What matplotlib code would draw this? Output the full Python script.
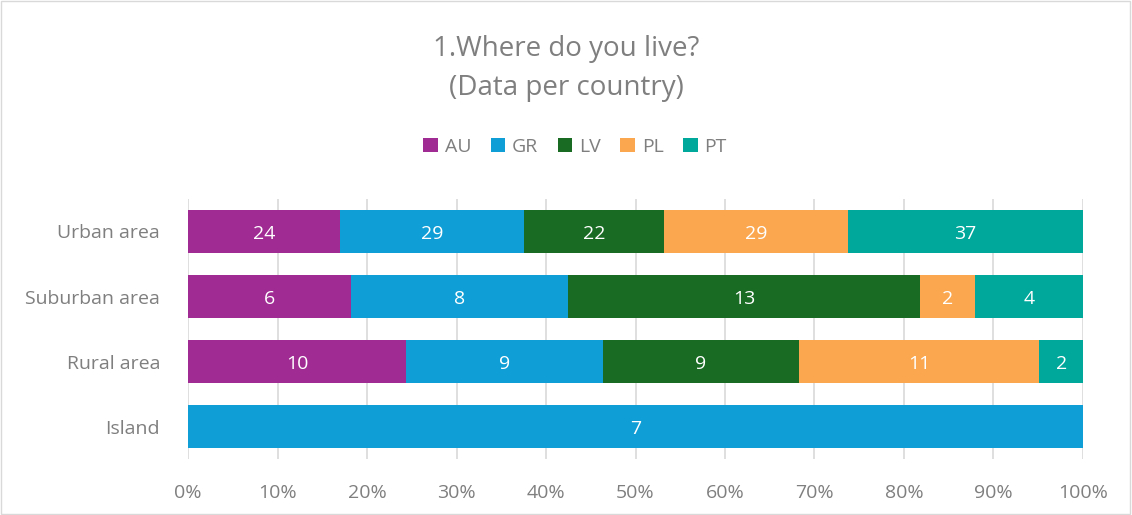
import matplotlib.pyplot as plt
import numpy as np
from matplotlib.patches import Rectangle

plt.rcParams['font.family'] = ['Open Sans', 'DejaVu Sans']

# datos
categorias = ["Urban area", "Suburban area", "Rural area", "Island"]
paises = ["AU", "GR", "LV", "PL", "PT"]
AU = [24, 6, 10, 0]
GR = [29, 8, 9, 7]
LV = [22, 13, 9, 0]
PL = [29, 2, 11, 0]
PT = [37, 4, 2, 0]
colores = ["#A02B93", "#0F9ED5", "#196B24", "#FAA74F", "#00A89C"]

series = np.array([AU, GR, LV, PL, PT], dtype=float)
totales = series.sum(axis=0)
pct = series / totales * 100

fig = plt.figure(figsize=(11.32, 5.15), dpi=100)
ax = fig.add_axes([0.1661, 0.1087, 0.7906, 0.5049])

gris = "#7F7F7F"
y = np.arange(len(categorias))
izq = np.zeros(len(categorias))
for i in range(len(paises)):
    ax.barh(y, pct[i], left=izq, height=0.66, color=colores[i], label=paises[i], zorder=3)
    for j in range(len(categorias)):
        if series[i][j] > 0:
            ax.text(izq[j] + pct[i][j] / 2, y[j] + 0.04, str(int(series[i][j])),
                    ha="center", va="center", color="white", fontsize=14, zorder=4)
    izq = izq + pct[i]

ax.set_xlim(0, 100)
ax.set_ylim(len(categorias) - 0.5, -0.5)
ax.set_yticks(y)
ax.set_yticklabels(categorias)
ax.set_xticks(np.arange(0, 101, 10))
ax.set_xticklabels([f"{v}%" for v in range(0, 101, 10)])
ax.tick_params(axis="both", length=0, labelsize=14, labelcolor=gris)
ax.tick_params(axis="x", pad=18)
ax.tick_params(axis="y", pad=20)
ax.grid(axis="x", color="#D9D9D9", linewidth=1.2, zorder=0)
for s in ax.spines.values():
    s.set_visible(False)

fig.text(0.5, 0.904, "1.Where do you live?", ha="center", va="center", fontsize=20, color="#7F7F7F")
fig.text(0.5, 0.829, "(Data per country)", ha="center", va="center", fontsize=20, color="#7F7F7F")

fig.legend(loc="center", bbox_to_anchor=(0.508, 0.715), ncol=5, frameon=False,
           fontsize=14, labelcolor=gris, handlelength=0.75, handleheight=0.75,
           handletextpad=0.35, columnspacing=1.0)

fig.patches.append(Rectangle((0.001, 0.002), 0.997, 0.996, transform=fig.transFigure,
                             fill=False, edgecolor="#D9D9D9", linewidth=1))

fig.savefig("out.png", dpi=100)
